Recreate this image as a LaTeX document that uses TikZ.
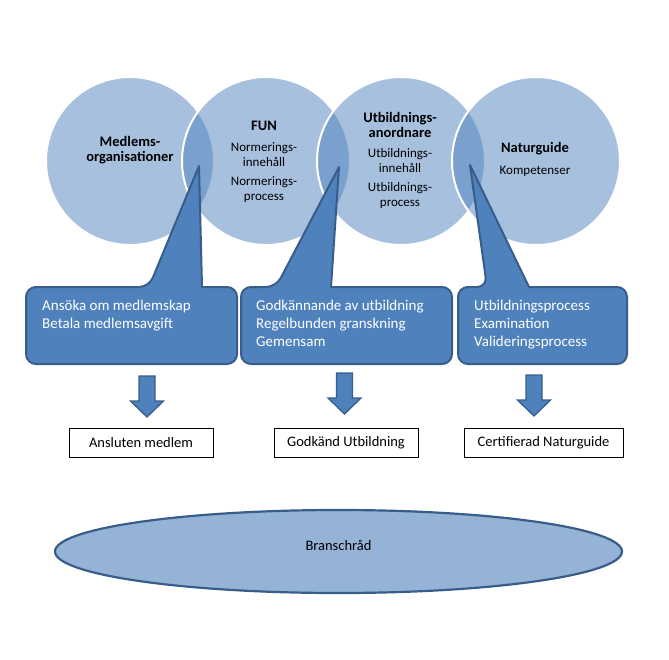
\documentclass[tikz,border=0pt]{standalone}
\usepackage{fontspec}
\setmainfont{Carlito}
\usetikzlibrary{shapes.geometric}
\definecolor{accent}{HTML}{4F81BD}
\definecolor{accentdark}{HTML}{385D8A}
\definecolor{ellfill}{HTML}{95B3D7}
\begin{document}
\begin{tikzpicture}[x=1pt,y=-1pt,
  venn/.style={circle,minimum size=168pt,inner sep=0pt,outer sep=0pt,fill=accent,fill opacity=0.5,draw=white,line width=2pt},
  ctitle/.style={align=center,inner sep=0pt,font=\fontsize{14.5}{15.5}\selectfont\bfseries},
  citem/.style={align=center,inner sep=0pt,font=\fontsize{13}{15}\selectfont},
  callout/.style={fill=accent,draw=accentdark,line width=2pt,line join=round},
  ctext/.style={align=left,anchor=west,inner sep=0pt,text=white,font=\fontsize{15}{18}\selectfont},
  arrowstyle/.style={fill=accent,draw=accentdark,line width=1.3pt},
  resultbox/.style={draw=black,line width=0.9pt,fill=white,minimum height=29pt,inner sep=0pt,font=\fontsize{14.5}{17}\selectfont},
  blockdown/.pic={\draw[arrowstyle] (-8,0) -- (8,0) -- (8,25) -- (16.5,25) -- (0,41) -- (-16.5,25) -- (-8,25) -- cycle;}
]
\useasboundingbox (0,0) rectangle (669,659);
% Venn circles
\node[venn] (c1) at (130,161) {};
\node[venn] (c2) at (266,161) {};
\node[venn] (c3) at (401,161) {};
\node[venn] (c4) at (536,161) {};
% circle texts
\node[ctitle] (t1) at (130,150) {Medlems-\\organisationer};
\node[ctitle] (t2) at (264,126) {FUN};
\node[citem] (t2a) at (264,154.5) {Normerings-\\innehåll};
\node[citem] (t2b) at (264,190) {Normerings-\\process};
\node[ctitle] (t3) at (400,125) {Utbildnings-\\anordnare};
\node[citem] (t3a) at (400,160.5) {Utbildnings-\\innehåll};
\node[citem] (t3b) at (400,195.5) {Utbildnings-\\process};
\node[ctitle] (t4) at (535,149) {Naturguide};
\node[citem] (t4a) at (535,171) {Kompetenser};
% callouts
\draw[callout] (149,287) -- (199,166) -- (202,287) [rounded corners=10pt] -- (237,287) -- (237,364) -- (26,364) -- (26,287) -- cycle;
\draw[callout] (276,287) -- (339,167) -- (331,287) [rounded corners=10pt] -- (452,287) -- (452,364) -- (241,364) -- (241,287) -- cycle;
\draw[callout] (487,287) -- (470,165) -- (529,287) [rounded corners=10pt] -- (627,287) -- (627,364) -- (458,364) -- (458,287) -- cycle;
\node[ctext] (k1) at (42,316) {Ansöka om medlemskap\\Betala medlemsavgift};
\node[ctext] (k2) at (256,323) {Godkännande av utbildning\\Regelbunden granskning\\Gemensam};
\node[ctext] (k3) at (474,325) {Utbildningsprocess\\Examination\\Valideringsprocess};
% block arrows
\pic at (147,376) {blockdown};
\pic at (344.5,373) {blockdown};
\pic at (534,375) {blockdown};
% result boxes
\node[resultbox,minimum width=144pt] (r1) at (141,442.5) {Ansluten medlem};
\node[resultbox,minimum width=144pt] (r2) at (346,442.5) {Godkänd Utbildning};
\node[resultbox,minimum width=159pt] (r3) at (543.5,443) {Certifierad Naturguide};
% ellipse
\node[ellipse,minimum width=567pt,minimum height=83pt,inner sep=0pt,fill=ellfill,draw=accentdark,line width=2.2pt] (branch) at (338.5,551.5) {};
\node[inner sep=0pt,font=\fontsize{14.5}{17}\selectfont] (branchlabel) at (338.5,545) {Branschråd};
\end{tikzpicture}
\end{document}
